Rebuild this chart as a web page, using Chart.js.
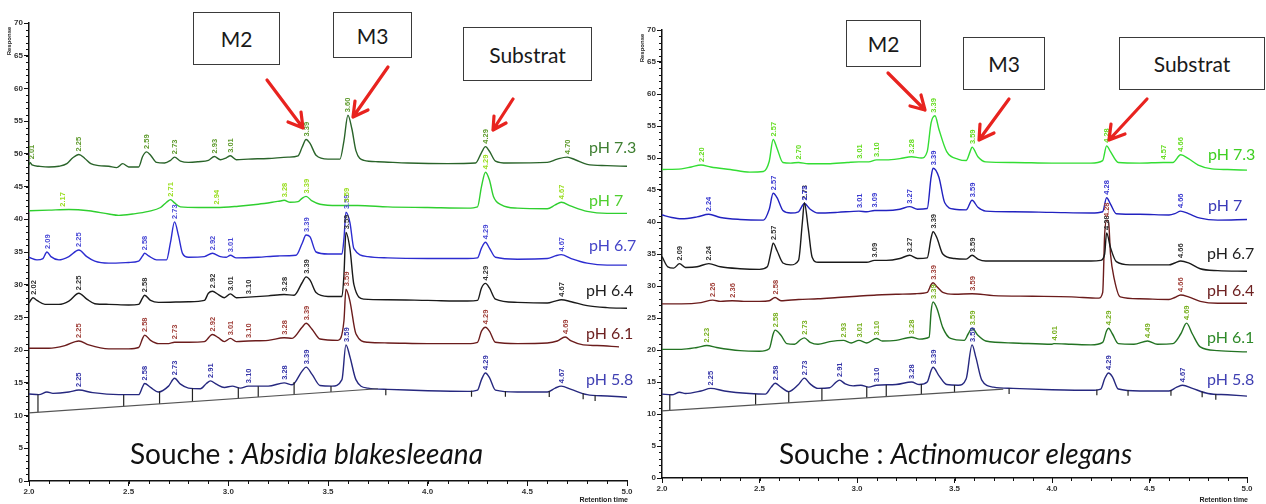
<!DOCTYPE html>
<html><head><meta charset="utf-8">
<script src="https://cdn.jsdelivr.net/npm/chart.js@4/dist/chart.umd.min.js"></script>
<style>
body{margin:0;background:#fff;width:1266px;height:504px;overflow:hidden;position:relative;font-family:Lato,"Open Sans",sans-serif}
.cv{position:absolute;top:0}
.box{position:absolute;border:1.6px solid #3a3a3a;background:#fff;display:flex;align-items:center;justify-content:center;font-size:21px;color:#1a1a1a;box-sizing:border-box}
.ph{position:absolute;font-size:16px;white-space:nowrap;line-height:16px;margin-top:-8px}
.souche{position:absolute;font-size:28px;white-space:nowrap;color:#111;line-height:32px}
svg{position:absolute;left:0;top:0;pointer-events:none}
</style></head><body>
<canvas id="c1" class="cv" width="640" height="504" style="left:0"></canvas>
<canvas id="c2" class="cv" width="626" height="504" style="left:640px"></canvas>

<div class="box" style="left:193px;top:12px;width:87px;height:53px">M2</div>
<div class="box" style="left:333px;top:12px;width:79px;height:46px">M3</div>
<div class="box" style="left:463px;top:27px;width:129px;height:54px">Substrat</div>
<div class="box" style="left:846px;top:20px;width:75px;height:47px">M2</div>
<div class="box" style="left:963px;top:37px;width:82px;height:53px">M3</div>
<div class="box" style="left:1119px;top:37px;width:146px;height:53px">Substrat</div>

<div class="ph" style="left:589px;top:147px;color:#3f7f32">pH 7.3</div>
<div class="ph" style="left:589px;top:200px;color:#4fcf2f">pH 7</div>
<div class="ph" style="left:589px;top:245px;color:#4545c8">pH 6.7</div>
<div class="ph" style="left:586px;top:290px;color:#1e1e1e">pH 6.4</div>
<div class="ph" style="left:586px;top:333px;color:#6e2222">pH 6.1</div>
<div class="ph" style="left:586px;top:379px;color:#4141b3">pH 5.8</div>

<div class="ph" style="left:1208px;top:154px;color:#3fcf22">pH 7.3</div>
<div class="ph" style="left:1208px;top:205px;color:#3a3ab8">pH 7</div>
<div class="ph" style="left:1207px;top:253px;color:#1e1e1e">pH 6.7</div>
<div class="ph" style="left:1207px;top:290px;color:#6e2222">pH 6.4</div>
<div class="ph" style="left:1207px;top:337px;color:#2f8a2a">pH 6.1</div>
<div class="ph" style="left:1207px;top:379px;color:#4141b3">pH 5.8</div>

<div class="souche" style="left:130px;top:437px">Souche : <i>Absidia blakesleeana</i></div>
<div class="souche" style="left:779px;top:437px">Souche : <i>Actinomucor elegans</i></div>

<svg width="1266" height="504">
 <g stroke="#e8231f" stroke-width="3.2" fill="none" stroke-linecap="round" stroke-linejoin="round">
  <path d="M267 80 L303 128 M303 128 L288 122 M303 128 L301 112"/>
  <path d="M388 67 L353 117 M353 117 L355 101 M353 117 L368 110"/>
  <path d="M513 99 L493 130 M493 130 L494 116 M493 130 L506 123"/>
  <path d="M888 73 L925 110 M925 110 L910 106 M925 110 L921 95"/>
  <path d="M1009 99 L979 140 M979 140 L980 124 M979 140 L994 133"/>
  <path d="M1147 99 L1109 140 M1109 140 L1111 124 M1109 140 L1125 134"/>
 </g>
</svg>

<script>
// ---------- axes ----------
const xMajorTicks = [2.0, 2.5, 3.0, 3.5, 4.0, 4.5, 5.0];
const yMajorTicks = [0, 5, 10, 15, 20, 25, 30, 35, 40, 45, 50, 55, 60, 65, 70];
const phLevels = ['pH 7.3', 'pH 7', 'pH 6.7', 'pH 6.4', 'pH 6.1', 'pH 5.8'];

// ---------- Absidia blakesleeana (left) ----------
const absidia73 = [[2.00,48.3],[2.005,48.7],[2.015,48.3],[2.05,48.1],[2.10,48.0],[2.15,48.1],[2.19,48.5],[2.22,49.4],[2.25,49.9],[2.28,49.3],[2.31,48.5],[2.35,48.2],[2.40,48.1],[2.44,47.9],[2.47,48.5],[2.50,48.0],[2.55,48.0],[2.57,49.6],[2.59,50.3],[2.61,49.8],[2.64,48.7],[2.68,48.6],[2.71,49.0],[2.73,49.5],[2.76,48.9],[2.80,48.7],[2.85,48.8],[2.90,49.0],[2.93,49.6],[2.96,49.1],[2.99,49.4],[3.01,49.7],[3.04,49.1],[3.10,49.2],[3.20,49.3],[3.30,49.5],[3.35,49.7],[3.37,51.0],[3.39,52.2],[3.41,51.6],[3.44,49.8],[3.50,49.2],[3.56,49.2],[3.58,52.0],[3.60,55.9],[3.62,53.8],[3.64,50.5],[3.68,49.0],[3.75,48.8],[3.90,48.6],[4.10,48.5],[4.24,48.6],[4.27,50.2],[4.29,51.1],[4.31,50.4],[4.34,48.9],[4.40,48.6],[4.60,48.7],[4.65,49.2],[4.70,49.5],[4.74,49.1],[4.80,48.4],[4.90,48.2],[5.00,48.1]];
const absidia70 = [[2.00,41.3],[2.10,41.4],[2.20,41.5],[2.30,41.3],[2.40,40.8],[2.45,40.6],[2.52,40.8],[2.60,41.2],[2.66,41.8],[2.69,42.6],[2.71,43.0],[2.73,42.5],[2.76,41.9],[2.85,41.8],[2.94,41.8],[3.05,42.0],[3.15,42.3],[3.22,42.6],[3.26,42.8],[3.28,42.9],[3.31,42.6],[3.35,42.7],[3.37,43.2],[3.39,43.5],[3.42,42.8],[3.46,42.3],[3.55,42.1],[3.59,42.1],[3.65,42.1],[3.80,41.9],[4.00,41.8],[4.20,41.7],[4.25,41.9],[4.27,45.0],[4.29,47.2],[4.31,46.0],[4.33,43.5],[4.37,42.2],[4.45,41.7],[4.60,41.6],[4.64,42.2],[4.67,42.6],[4.72,42.0],[4.80,41.2],[4.90,40.9],[5.00,40.9]];
const absidia67 = [[2.00,34.2],[2.04,33.8],[2.07,34.0],[2.09,35.0],[2.11,34.3],[2.15,33.8],[2.20,34.3],[2.25,35.3],[2.29,34.3],[2.33,33.6],[2.40,33.3],[2.50,33.4],[2.55,33.6],[2.57,34.4],[2.58,34.8],[2.60,34.4],[2.64,33.8],[2.69,33.8],[2.71,36.5],[2.73,39.6],[2.75,37.5],[2.77,34.8],[2.80,34.2],[2.88,34.3],[2.92,34.8],[2.96,34.3],[2.99,34.2],[3.01,34.5],[3.04,34.1],[3.15,34.2],[3.25,34.4],[3.34,34.5],[3.37,36.3],[3.39,37.6],[3.41,37.3],[3.44,35.0],[3.50,34.7],[3.57,34.7],[3.58,37.0],[3.59,41.1],[3.61,39.5],[3.63,35.5],[3.70,34.3],[3.80,34.1],[4.00,34.0],[4.20,34.0],[4.25,34.1],[4.27,35.6],[4.29,36.5],[4.31,35.6],[4.34,34.2],[4.45,33.9],[4.60,34.0],[4.64,34.4],[4.67,34.6],[4.72,34.0],[4.80,33.3],[4.90,33.0],[5.00,33.0]];
const absidia64 = [[2.00,27.2],[2.01,27.7],[2.02,28.0],[2.04,27.6],[2.08,27.0],[2.15,27.0],[2.20,27.5],[2.25,28.7],[2.29,27.8],[2.33,27.1],[2.40,27.0],[2.50,26.9],[2.55,27.0],[2.57,28.0],[2.58,28.4],[2.61,27.6],[2.65,27.3],[2.80,27.4],[2.88,27.6],[2.90,28.7],[2.92,29.0],[2.95,28.5],[2.98,28.0],[3.01,28.6],[3.04,28.0],[3.10,28.1],[3.20,28.3],[3.28,28.5],[3.33,28.4],[3.37,30.3],[3.39,31.2],[3.41,30.7],[3.44,28.8],[3.50,28.2],[3.57,28.2],[3.58,31.5],[3.59,38.0],[3.61,35.5],[3.63,30.0],[3.68,27.8],[3.80,27.7],[4.00,27.6],[4.20,27.5],[4.25,27.6],[4.27,29.5],[4.29,30.2],[4.31,29.5],[4.34,27.8],[4.45,27.3],[4.60,27.2],[4.64,27.5],[4.67,27.7],[4.72,27.4],[4.80,26.8],[4.90,26.5],[5.00,26.4]];
const absidia61 = [[2.00,20.3],[2.10,20.3],[2.18,20.7],[2.25,21.4],[2.30,20.8],[2.40,20.2],[2.50,20.2],[2.55,20.4],[2.57,21.8],[2.58,22.3],[2.61,21.5],[2.65,21.0],[2.70,21.0],[2.73,21.2],[2.80,21.2],[2.88,21.3],[2.92,22.4],[2.95,21.9],[2.98,21.3],[3.01,21.8],[3.04,21.3],[3.10,21.4],[3.20,21.5],[3.28,21.9],[3.32,21.8],[3.37,23.5],[3.39,24.1],[3.42,23.2],[3.46,21.7],[3.55,21.5],[3.58,24.5],[3.59,29.3],[3.61,27.5],[3.64,22.5],[3.70,21.2],[3.80,21.1],[4.00,21.0],[4.20,21.0],[4.25,21.2],[4.27,22.9],[4.29,23.5],[4.31,22.9],[4.34,21.2],[4.45,21.0],[4.60,21.1],[4.65,21.4],[4.69,22.0],[4.72,21.4],[4.78,20.8],[4.85,20.7],[4.96,20.5]];
const absidia58 = [[2.00,13.3],[2.05,13.2],[2.09,13.6],[2.12,13.4],[2.20,13.6],[2.25,13.9],[2.32,13.5],[2.45,13.2],[2.55,13.2],[2.57,14.4],[2.58,14.9],[2.61,14.3],[2.65,13.6],[2.70,14.5],[2.73,15.7],[2.76,14.8],[2.80,14.2],[2.86,14.1],[2.89,14.9],[2.91,15.3],[2.94,14.8],[2.98,14.3],[3.02,14.5],[3.06,14.2],[3.10,14.5],[3.20,14.5],[3.28,15.0],[3.32,14.7],[3.37,16.8],[3.39,17.4],[3.42,16.3],[3.46,14.6],[3.52,14.5],[3.57,15.5],[3.59,20.8],[3.61,19.0],[3.64,15.5],[3.70,14.2],[3.80,14.0],[4.00,13.8],[4.20,13.7],[4.25,13.9],[4.27,15.5],[4.29,16.5],[4.31,15.8],[4.34,13.9],[4.45,13.6],[4.60,13.6],[4.64,14.2],[4.67,14.5],[4.72,14.0],[4.80,13.2],[4.90,13.0],[5.00,12.8]];
const absidiaBaseline = [[2.00,10.4],[3.75,14.1]];
const absidiaDrops = [2.045, 2.475, 2.655, 2.82, 3.05, 3.15, 3.33, 3.515, 3.79, 4.22, 4.39, 4.61, 4.78, 4.84];

const absidiaLbl73 = ['2.01','2.25','2.59','2.73','2.93','3.01','3.39','3.60','4.29','4.70'];
const absidiaLbl70 = ['2.17','2.71','2.94','3.28','3.39','3.59','4.29','4.67'];
const absidiaLbl67 = ['2.09','2.25','2.58','2.73','2.92','3.01','3.39','3.59','4.29','4.67'];
const absidiaLbl64 = ['2.02','2.25','2.58','2.92','3.01','3.10','3.28','3.39','3.59','4.29','4.67'];
const absidiaLbl61 = ['2.25','2.58','2.73','2.92','3.01','3.10','3.28','3.39','3.59','4.29','4.69'];
const absidiaLbl58 = ['2.25','2.58','2.73','2.91','3.10','3.28','3.39','3.59','4.29','4.67'];

// ---------- Actinomucor elegans (right) ----------
const actino73 = [[2.00,48.2],[2.10,48.3],[2.15,48.6],[2.20,48.9],[2.25,48.6],[2.35,48.2],[2.45,47.8],[2.52,47.9],[2.55,49.5],[2.57,52.9],[2.59,51.5],[2.62,49.3],[2.66,49.2],[2.70,49.3],[2.75,49.1],[2.85,49.1],[2.95,49.3],[3.01,49.4],[3.06,49.4],[3.10,49.7],[3.15,49.7],[3.22,49.9],[3.28,50.2],[3.33,50.0],[3.36,51.0],[3.38,55.5],[3.40,56.6],[3.42,54.5],[3.46,51.0],[3.52,49.8],[3.56,49.6],[3.58,51.0],[3.59,51.7],[3.62,50.2],[3.66,49.4],[3.80,49.3],[4.00,49.2],[4.20,49.2],[4.26,49.6],[4.28,51.9],[4.30,51.0],[4.34,49.3],[4.45,49.2],[4.57,49.3],[4.62,49.3],[4.66,50.5],[4.70,49.9],[4.75,48.9],[4.82,48.3],[4.90,48.2],[5.00,48.1]];
const actino70 = [[2.00,41.1],[2.05,40.7],[2.10,40.5],[2.18,40.8],[2.24,41.2],[2.30,40.7],[2.40,40.4],[2.52,40.3],[2.55,42.0],[2.57,44.5],[2.59,43.8],[2.62,41.8],[2.66,41.4],[2.70,41.6],[2.73,42.9],[2.76,42.0],[2.80,41.4],[2.90,41.5],[3.01,41.7],[3.05,41.6],[3.09,41.8],[3.15,41.8],[3.22,42.0],[3.27,42.4],[3.31,42.0],[3.36,42.1],[3.38,47.0],[3.39,48.4],[3.42,47.0],[3.45,43.0],[3.50,42.0],[3.56,41.9],[3.59,43.4],[3.62,42.3],[3.66,41.7],[3.80,41.6],[4.00,41.5],[4.20,41.4],[4.26,41.6],[4.28,43.8],[4.30,42.8],[4.33,41.3],[4.45,41.2],[4.60,41.1],[4.63,41.3],[4.66,41.7],[4.70,41.3],[4.76,40.6],[4.85,40.3],[5.00,40.4]];
const actino67 = [[2.00,34.6],[2.03,33.0],[2.06,32.8],[2.09,33.5],[2.12,32.9],[2.18,33.0],[2.24,33.5],[2.30,33.0],[2.40,32.7],[2.50,32.6],[2.54,33.0],[2.56,35.5],[2.57,36.7],[2.59,35.5],[2.62,33.6],[2.66,33.3],[2.70,34.0],[2.72,40.0],[2.73,43.0],[2.75,39.0],[2.77,34.5],[2.80,33.7],[2.90,33.7],[3.00,33.7],[3.05,33.7],[3.09,34.0],[3.15,34.0],[3.22,34.3],[3.27,34.8],[3.31,34.3],[3.36,34.4],[3.38,37.5],[3.39,38.5],[3.41,37.5],[3.44,35.0],[3.50,34.3],[3.56,34.2],[3.59,34.8],[3.62,34.2],[3.66,33.9],[3.80,33.9],[4.00,33.9],[4.20,33.9],[4.25,34.0],[4.27,35.0],[4.28,38.3],[4.30,36.0],[4.33,33.8],[4.40,33.3],[4.50,33.3],[4.60,33.3],[4.63,33.6],[4.66,33.9],[4.70,33.6],[4.76,32.7],[4.85,32.4],[5.00,32.3]];
const actino64 = [[2.00,27.2],[2.10,27.2],[2.20,27.4],[2.26,27.8],[2.30,27.6],[2.36,27.7],[2.42,27.6],[2.50,27.6],[2.55,27.7],[2.58,28.2],[2.61,27.7],[2.70,27.9],[2.80,28.0],[2.90,28.2],[3.00,28.4],[3.10,28.6],[3.20,28.7],[3.30,28.8],[3.36,29.0],[3.38,30.2],[3.39,30.5],[3.41,29.9],[3.44,29.0],[3.50,28.7],[3.59,28.8],[3.70,28.5],[3.90,28.4],[4.10,28.3],[4.24,28.1],[4.26,29.0],[4.27,38.0],[4.28,40.3],[4.29,40.0],[4.30,35.0],[4.32,31.0],[4.35,28.3],[4.45,28.0],[4.60,27.9],[4.63,28.2],[4.66,28.6],[4.70,28.3],[4.76,27.6],[4.85,27.3],[5.00,27.3]];
const actino61 = [[2.00,20.1],[2.10,20.1],[2.18,20.4],[2.23,20.7],[2.28,20.4],[2.40,19.9],[2.50,19.8],[2.55,20.2],[2.57,22.5],[2.58,23.1],[2.61,22.3],[2.64,21.0],[2.68,20.9],[2.71,21.6],[2.73,21.9],[2.76,21.2],[2.80,20.9],[2.86,21.3],[2.93,21.5],[2.97,21.1],[3.01,21.5],[3.05,21.1],[3.10,21.8],[3.13,21.4],[3.20,21.5],[3.28,22.0],[3.32,21.7],[3.37,22.0],[3.38,26.0],[3.39,27.5],[3.41,26.5],[3.44,23.5],[3.48,21.8],[3.55,21.5],[3.57,22.5],[3.59,23.4],[3.62,22.3],[3.66,21.4],[3.80,21.1],[4.00,20.9],[4.01,21.0],[4.10,20.9],[4.20,20.8],[4.26,21.2],[4.28,23.0],[4.29,23.4],[4.31,22.5],[4.34,21.0],[4.42,20.9],[4.49,21.4],[4.54,20.9],[4.62,21.0],[4.66,22.5],[4.69,24.2],[4.72,22.5],[4.76,20.5],[4.85,19.9],[5.00,19.7]];
const actino58 = [[2.00,13.1],[2.05,13.0],[2.09,13.4],[2.12,13.2],[2.20,13.6],[2.25,14.0],[2.32,13.6],[2.45,13.2],[2.53,13.1],[2.56,14.2],[2.58,14.8],[2.61,14.2],[2.65,13.5],[2.70,14.6],[2.73,15.6],[2.76,14.7],[2.80,14.0],[2.86,14.1],[2.89,14.9],[2.91,15.3],[2.94,14.7],[2.98,14.4],[3.02,14.5],[3.06,14.2],[3.10,14.5],[3.20,14.6],[3.28,15.0],[3.32,14.6],[3.36,15.0],[3.38,16.8],[3.39,17.3],[3.42,16.0],[3.46,14.6],[3.52,14.5],[3.56,15.5],[3.59,20.8],[3.61,18.8],[3.64,15.3],[3.70,14.2],[3.80,14.0],[4.00,13.8],[4.20,13.7],[4.25,13.9],[4.27,15.5],[4.29,16.4],[4.31,15.8],[4.34,13.9],[4.45,13.6],[4.60,13.6],[4.64,14.2],[4.67,14.5],[4.72,14.0],[4.80,13.2],[4.90,13.0],[5.00,12.8]];
const actinoBaseline = [[2.00,10.5],[3.75,13.9]];
const actinoDrops = [2.04, 2.48, 2.65, 2.82, 3.05, 3.15, 3.33, 3.50, 3.78, 4.23, 4.39, 4.61, 4.77, 4.84];

const actinoLbl73 = ['2.20','2.57','2.70','3.01','3.10','3.28','3.39','3.59','4.28','4.57','4.66'];
const actinoLbl70 = ['2.24','2.57','2.73','3.01','3.09','3.27','3.39','3.59','4.28','4.66'];
const actinoLbl67 = ['2.09','2.24','2.57','2.73','3.09','3.27','3.39','3.59','4.28','4.66'];
const actinoLbl64 = ['2.26','2.36','2.58','3.39','3.59','4.28','4.66'];
const actinoLbl61 = ['2.23','2.58','2.73','2.93','3.01','3.10','3.28','3.39','3.59','4.01','4.29','4.49','4.69'];
const actinoLbl58 = ['2.25','2.58','2.73','2.91','3.10','3.28','3.39','3.59','4.29','4.67'];

// ---------- helpers ----------
function interp(arr, x){
  for(let i=0;i<arr.length-1;i++){
    const a=arr[i], b=arr[i+1];
    if(x>=a[0] && x<=b[0]) return a[1]+(b[1]-a[1])*(x-a[0])/(b[0]-a[0]);
  }
  return arr[arr.length-1][1];
}
function dropData(xs, trace, base){
  const out=[];
  const bEnd = base[base.length-1][0];
  xs.forEach(x=>{
    const top = interp(trace,x);
    const bot = x<=bEnd ? interp(base,x) : top-0.9;
    out.push([x,top],[x,bot],[x,null]);
  });
  return out;
}
function trace(data, color, labels, labelColor){
  return {data, borderColor:color, borderWidth:1.4, pointRadius:0, cubicInterpolationMode:'monotone', fill:false, peakLabels:labels, labelColor};
}

const peakLabelPlugin = {
  id:'peakLabels',
  afterDatasetsDraw(chart){
    const ctx=chart.ctx, xs=chart.scales.x, ys=chart.scales.y;
    ctx.save();
    ctx.font='bold 7.5px "Liberation Sans", Arial, sans-serif';
    ctx.textAlign='left'; ctx.textBaseline='middle';
    chart.data.datasets.forEach(ds=>{
      if(!ds.peakLabels) return;
      ds.peakLabels.forEach(t=>{
        const rt=parseFloat(t);
        let apex=-Infinity;
        ds.data.forEach(p=>{ if(Math.abs(p[0]-rt)<=0.021 && p[1]>apex) apex=p[1]; });
        if(apex===-Infinity) apex=interp(ds.data,rt);
        const px=xs.getPixelForValue(rt), py=ys.getPixelForValue(apex);
        ctx.save();
        ctx.translate(px+0.5, py-3);
        ctx.rotate(-Math.PI/2);
        ctx.fillStyle=ds.labelColor;
        ctx.fillText(t,0,0);
        ctx.restore();
      });
    });
    ctx.restore();
  }
};

const axisExtrasPlugin = {
  id:'axisExtras',
  afterDraw(chart){
    const ctx=chart.ctx, xs=chart.scales.x, ys=chart.scales.y, a=chart.chartArea;
    ctx.save();
    ctx.strokeStyle='#111'; ctx.lineWidth=1;
    ctx.beginPath();
    const x0=xMajorTicks[0], x1=xMajorTicks[xMajorTicks.length-1];
    for(let i=0;i<=Math.round((x1-x0)*10);i++){
      const px=Math.round(xs.getPixelForValue(x0+i*0.1))+0.5;
      ctx.moveTo(px,a.bottom); ctx.lineTo(px,a.bottom+3);
    }
    const y1=yMajorTicks[yMajorTicks.length-1];
    for(let v=0; v<=y1; v++){
      const py=Math.round(ys.getPixelForValue(v))+0.5;
      ctx.moveTo(a.left,py); ctx.lineTo(a.left-3,py);
    }
    ctx.stroke();
    ctx.fillStyle='#222';
    ctx.font='bold 6px "Liberation Sans", Arial, sans-serif';
    ctx.save();
    ctx.translate(a.left-20, a.top+18);
    ctx.rotate(-Math.PI/2);
    ctx.textAlign='center'; ctx.textBaseline='middle';
    ctx.fillText('Response',0,0);
    ctx.restore();
    ctx.font='bold 7px "Liberation Sans", Arial, sans-serif';
    ctx.textAlign='right'; ctx.textBaseline='middle';
    ctx.fillText('Retention time', a.right+1, chart.height-4);
    ctx.restore();
  }
};

function makeChart(id, sets, pad, yW, xH){
  return new Chart(document.getElementById(id), {
    type:'line',
    data:{datasets:sets},
    options:{
      responsive:false, animation:false,
      layout:{padding:pad},
      plugins:{legend:{display:false}, tooltip:{enabled:false}},
      scales:{
        x:{type:'linear', min:xMajorTicks[0], max:xMajorTicks[xMajorTicks.length-1],
           afterBuildTicks:s=>{s.ticks=xMajorTicks.map(v=>({value:v}));},
           afterFit:s=>{s.height=xH;},
           grid:{drawOnChartArea:false, tickLength:5, color:'#111'},
           border:{color:'#111', width:1.5},
           ticks:{autoSkip:false, maxRotation:0, padding:1, color:'#333', font:{size:8, weight:'bold', family:'"Liberation Sans", Arial'}, callback:v=>Number(v).toFixed(1)}},
        y:{type:'linear', min:yMajorTicks[0], max:yMajorTicks[yMajorTicks.length-1],
           afterBuildTicks:s=>{s.ticks=yMajorTicks.map(v=>({value:v}));},
           afterFit:s=>{s.width=yW;},
           grid:{drawOnChartArea:false, tickLength:5, color:'#111'},
           border:{color:'#111', width:1.5},
           ticks:{autoSkip:false, padding:1, color:'#333', font:{size:8, weight:'bold', family:'"Liberation Sans", Arial'}, callback:v=>String(v)}}
      }
    },
    plugins:[peakLabelPlugin, axisExtrasPlugin]
  });
}

const leftSets = [
  {data:absidiaBaseline, borderColor:'#555', borderWidth:1.2, pointRadius:0},
  {data:dropData(absidiaDrops, absidia58, absidiaBaseline), borderColor:'#222', borderWidth:1.2, pointRadius:0, spanGaps:false},
  trace(absidia58, '#26287f', absidiaLbl58, '#3535a8'),
  trace(absidia61, '#6b1c1c', absidiaLbl61, '#a0403a'),
  trace(absidia64, '#1a1a1a', absidiaLbl64, '#333333'),
  trace(absidia67, '#2c2cd0', absidiaLbl67, '#4a4ad6'),
  trace(absidia70, '#2fcf2f', absidiaLbl70, '#9ade20'),
  trace(absidia73, '#2a642a', absidiaLbl73, '#5e9a2c')
];
const rightSets = [
  {data:actinoBaseline, borderColor:'#555', borderWidth:1.2, pointRadius:0},
  {data:dropData(actinoDrops, actino58, actinoBaseline), borderColor:'#222', borderWidth:1.2, pointRadius:0, spanGaps:false},
  trace(actino58, '#26287f', actinoLbl58, '#3535a8'),
  trace(actino61, '#237323', actinoLbl61, '#78b020'),
  trace(actino67, '#1a1a1a', actinoLbl67, '#333333'),
  trace(actino64, '#6b1c1c', actinoLbl64, '#a0403a'),
  trace(actino70, '#2222c0', actinoLbl70, '#3a3ad0'),
  trace(actino73, '#33dd33', actinoLbl73, '#66dd22')
];

makeChart('c1', leftSets, {left:0, top:23, right:13, bottom:0}, 29, 23);
makeChart('c2', rightSets, {left:0, top:30, right:19, bottom:0}, 22, 26);
</script>
</body></html>
